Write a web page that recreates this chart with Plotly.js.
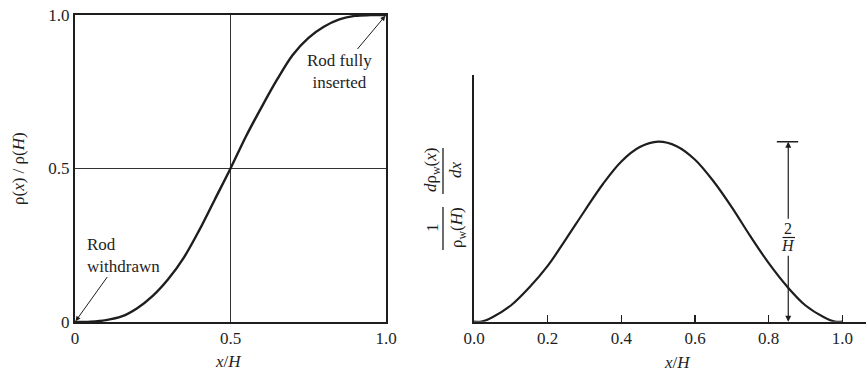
<!DOCTYPE html>
<html>
<head>
<meta charset="utf-8">
<script src="https://cdn.plot.ly/plotly-3.0.1.min.js"></script>
<style>
html,body{margin:0;padding:0;background:#fff;}
#chart{width:866px;height:371px;}
</style>
</head>
<body>
<div id="chart"></div>
<script>
// ---- Data ----
// Left panel: integral rod worth rho(x)/rho(H) vs x/H
const xLeft = [0, 0.05, 0.1, 0.15, 0.2, 0.25, 0.3, 0.35, 0.4, 0.45, 0.5, 0.55, 0.6, 0.65, 0.7, 0.75, 0.8, 0.85, 0.9, 0.95, 1.0];
const rodWorth = [0, 0.001, 0.006, 0.018, 0.045, 0.085, 0.14, 0.21, 0.30, 0.40, 0.50, 0.605, 0.70, 0.79, 0.87, 0.925, 0.962, 0.986, 0.997, 0.9995, 1.0];
const leftTickVals = [0, 0.5, 1];
const leftTickText = ['0', '0.5', '1.0'];

// Right panel: differential rod worth (units of 1/H) vs x/H
const xRight = [0, 0.02, 0.05, 0.1, 0.15, 0.2, 0.25, 0.3, 0.35, 0.4, 0.45, 0.5, 0.55, 0.6, 0.65, 0.7, 0.75, 0.8, 0.85, 0.9, 0.95, 0.98, 1.0];
const diffWorth = [0, 0, 0.05, 0.18, 0.38, 0.62, 0.92, 1.23, 1.53, 1.78, 1.94, 2.0, 1.95, 1.80, 1.56, 1.27, 0.95, 0.65, 0.39, 0.18, 0.05, 0, 0];
const rightTickVals = [0, 0.2, 0.4, 0.6, 0.8, 1.0];
const rightTickText = ['0.0', '0.2', '0.4', '0.6', '0.8', '1.0'];
const peakValue = 2;      // 2/H
const markerX = 0.853;    // position of the 2/H dimension line

// ---- helpers: pixel -> paper ----
const W = 866, H = 371;
const px = v => v / W;
const py = v => (H - v) / H;

const ink = '#1e1e1e';
const fontFam = '"Liberation Serif", "DejaVu Serif", serif';

const traces = [
  {x: xLeft, y: rodWorth, xaxis: 'x', yaxis: 'y', mode: 'lines',
   line: {color: ink, width: 2.4, shape: 'spline', smoothing: 1}, hoverinfo: 'skip'},
  {x: xRight, y: diffWorth, xaxis: 'x2', yaxis: 'y2', mode: 'lines',
   line: {color: ink, width: 2.2, shape: 'spline', smoothing: 1}, hoverinfo: 'skip'}
];

const txt = (text, x, y, extra) => Object.assign({
  text: text, xref: 'paper', yref: 'paper', x: px(x), y: py(y),
  showarrow: false, xanchor: 'center', yanchor: 'middle',
  font: {family: fontFam, size: 17, color: ink}
}, extra || {});

const arrowStyle = {showarrow: true, arrowhead: 2, arrowsize: 1, arrowwidth: 1, arrowcolor: ink,
  font: {family: fontFam, size: 17, color: ink}};

const annotations = [
  // axis titles
  txt('<i>x</i>/<i>H</i>', 228, 361),
  txt('ρ(<i>x</i>) / ρ(<i>H</i>)', 19, 169, {textangle: -90}),
  txt('<i>x</i>/<i>H</i>', 677, 362),
  // right y title as two stacked fractions (rotated)
  txt('1', 432, 228, {textangle: -90}),
  txt('ρ<sub>w</sub>(<i>H</i>)', 458, 228, {textangle: -90}),
  txt('<i>d</i>ρ<sub>w</sub>(<i>x</i>)', 432, 170, {textangle: -90}),
  txt('<i>dx</i>', 455, 170, {textangle: -90}),
  // callouts with arrows (text sits at the arrow tail)
  Object.assign({text: 'Rod fully<br>inserted', xref: 'x', yref: 'y', x: 1, y: 1,
    ax: -47, ay: 56, standoff: 1}, arrowStyle),
  Object.assign({text: 'Rod<br>withdrawn', align: 'left', xref: 'x', yref: 'y', x: 0, y: 0,
    ax: 48, ay: -67, standoff: 1}, arrowStyle),
  // 2/H dimension: "2" with arrow up to the peak level, "H" with arrow down to the axis
  Object.assign({}, arrowStyle, {text: '2', xref: 'x2', yref: 'y2', x: markerX, y: peakValue,
    ax: 0, ay: 87, arrowwidth: 1.2, font: {family: fontFam, size: 16, color: ink}}),
  Object.assign({}, arrowStyle, {text: '<i>H</i>', xref: 'x2', yref: 'y2', x: markerX, y: 0,
    ax: 0, ay: -76, arrowwidth: 1.2, font: {family: fontFam, size: 16, color: ink}})
];

const lineShape = (x0, y0, x1, y1, w) => ({type: 'line', xref: 'paper', yref: 'paper',
  x0: px(x0), y0: py(y0), x1: px(x1), y1: py(y1), line: {color: ink, width: w || 1.3}});

const shapes = [
  lineShape(443, 207, 443, 250),   // fraction bar 1/ρw(H)
  lineShape(443, 148, 443, 194),   // fraction bar dρw/dx
  lineShape(782.5, 237.5, 795, 237.5, 1.2), // 2/H bar
  {type: 'line', xref: 'x2', yref: 'y2', x0: markerX - 0.031, x1: markerX + 0.027,
   y0: peakValue, y1: peakValue, line: {color: ink, width: 1.5}}
];

const layout = {
  width: W, height: H,
  margin: {l: 0, r: 0, t: 0, b: 0},
  paper_bgcolor: '#fff', plot_bgcolor: 'rgba(0,0,0,0)',
  showlegend: false,
  font: {family: fontFam, size: 17, color: ink},
  xaxis: {domain: [px(75), px(386)], range: [0, 1], anchor: 'y',
    tickvals: leftTickVals, ticktext: leftTickText, ticks: '',
    showgrid: true, gridcolor: '#333', gridwidth: 1,
    showline: true, mirror: true, linecolor: ink, linewidth: 2,
    zeroline: false, automargin: false, fixedrange: true},
  yaxis: {domain: [py(322), py(15)], range: [0, 1], anchor: 'x',
    tickvals: leftTickVals, ticktext: leftTickText, ticks: '',
    showgrid: true, gridcolor: '#333', gridwidth: 1,
    showline: true, mirror: true, linecolor: ink, linewidth: 2,
    zeroline: false, automargin: false, fixedrange: true},
  xaxis2: {domain: [px(474), 1], range: [0, 1.064], anchor: 'y2',
    tickvals: rightTickVals, ticktext: rightTickText,
    ticks: 'inside', ticklen: 7, tickwidth: 1.5, tickcolor: ink,
    showgrid: false, showline: true, linecolor: ink, linewidth: 2,
    zeroline: false, automargin: false, fixedrange: true},
  yaxis2: {domain: [py(321.7), py(75)], range: [0, 2.741], anchor: 'x2',
    showticklabels: false, ticks: '', showgrid: false,
    showline: true, linecolor: ink, linewidth: 2,
    zeroline: false, automargin: false, fixedrange: true},
  annotations: annotations,
  shapes: shapes
};

Plotly.newPlot('chart', traces, layout, {displayModeBar: false, staticPlot: true});
</script>
</body>
</html>
